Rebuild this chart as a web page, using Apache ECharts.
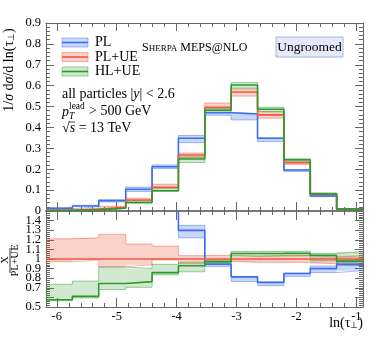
<!DOCTYPE html>
<html><head><meta charset="utf-8">
<script src="https://cdn.jsdelivr.net/npm/echarts@6/dist/echarts.min.js"></script>
<style>html,body{margin:0;padding:0;background:#fff}#c{width:374px;height:337px}</style>
</head><body><div id="c"></div>
<script>
// ---- data ----
const binEdges = [-6.18, -5.74, -5.30, -4.85, -4.41, -3.97, -3.53, -3.09, -2.65, -2.21, -1.77, -1.33, -0.89];
const pl   = [0.013, 0.024, 0.049, 0.104, 0.212, 0.348, 0.470, 0.464, 0.348, 0.196, 0.072, 0.0085];
const plue = [0.004, 0.009, 0.018, 0.053, 0.113, 0.268, 0.497, 0.570, 0.460, 0.231, 0.080, 0.009];
const hlue = [0.0023, 0.0055, 0.0134, 0.0405, 0.097, 0.249, 0.482, 0.603, 0.487, 0.245, 0.083, 0.0088];
// relative uncertainty bands (fraction of own central value)
const plUp   = [0.15, 0.15, 0.12, 0.10, 0.04, 0.04, 0.005, 0.005, 0.005, 0.005, 0.03, 0.035];
const plDn   = [0.15, 0.15, 0.12, 0.10, 0.04, 0.06, 0.025, 0.06, 0.045, 0.035, 0.045, 0.07];
const plueUp = [0.21, 0.22, 0.257, 0.156, 0.135, 0.035, 0.04, 0.025, 0.035, 0.035, 0.02, 0.035];
const plueDn = [0.03, 0.01, 0.08, 0.06, 0.01, 0.05, 0.02, 0.035, 0.035, 0.035, 0.05, 0.07];
const hlueUp = [0.28, 0.26, 0.23, 0.18, 0.10, 0.04, 0.02, 0.02, 0.02, 0.02, 0.02, 0.10];
const hlueDn = [0.017, 0.028, 0.084, 0.077, 0.028, 0.067, 0.02, 0.025, 0.025, 0.025, 0.055, 0.04];
const seriesNames = ['PL', 'PL+UE', 'HL+UE'];
const xTickValues = [-6, -5, -4, -3, -2, -1];
const xMinorTickValues = [-6.0,-5.8,-5.6,-5.4,-5.2,-5.0,-4.8,-4.6,-4.4,-4.2,-4.0,-3.8,-3.6,-3.4,-3.2,-3.0,-2.8,-2.6,-2.4,-2.2,-2.0,-1.8,-1.6,-1.4,-1.2,-1.0];
const X_MIN = -6.18, X_MAX = -0.89;

// ---- styling ----
const FONT = 'Liberation Serif';
const FS = 14;
const COL = ['#3c6ef2', '#ee5a3e', '#2c9a2c'];
const BAND_A = [0.28, 0.27, 0.22];
const AX = '#666';
function rgba(hex, a){const n=parseInt(hex.slice(1),16);return `rgba(${n>>16},${(n>>8)&255},${n&255},${a})`;}

const chart = echarts.init(document.getElementById('c'), null, {renderer:'canvas'});

function xAx(grid, pos, values, len, labels, lineOpt){
  return {type:'value', gridIndex:grid, position:pos, min:X_MIN, max:X_MAX,
    axisLine: lineOpt ? Object.assign({show:true, onZero:false}, lineOpt) : {show:false, onZero:false},
    splitLine:{show:false},
    axisTick:{show:true, inside:true, length:len, customValues:values, lineStyle:{color:AX, width:1}},
    axisLabel: labels ? {show:true, customValues:xTickValues, margin:3, color:'#000', fontFamily:FONT, fontSize:12.5, formatter:v=>String(v)} : {show:false}
  };
}
function yAx(grid, pos, min, max, labels, showMax){
  return {type:'value', gridIndex:grid, position:pos, min, max, interval:0.1,
    axisLine:{show:true, onZero:false, lineStyle:{color:AX, width:1}},
    splitLine:{show:false},
    axisTick:{show:true, inside:true, length:8, lineStyle:{color:AX, width:1}},
    minorTick:{show:true, splitNumber:5, length:4, lineStyle:{color:AX, width:1}},
    axisLabel: labels ? {show:true, margin:5, color:'#000', fontFamily:FONT, fontSize:12.5, showMaxLabel:showMax, showMinLabel:true} : {show:false}
  };
}

function bandSeries(lo, hi, color, alpha, xi, yi){
  return {type:'custom', xAxisIndex:xi, yAxisIndex:yi, clip:true, silent:true, z:2,
    data: lo.map((l,i)=>[binEdges[i], binEdges[i+1], l, hi[i]]),
    encode:{x:[0,1], y:[2,3]},
    renderItem:(p, api)=>{
      const a = api.coord([api.value(0), api.value(3)]);
      const b = api.coord([api.value(1), api.value(2)]);
      return {type:'rect', shape:{x:a[0], y:a[1], width:b[0]-a[0], height:b[1]-a[1]}, style:{fill:rgba(color, alpha)}};
    }};
}
function stepSeries(vals, color, width, opacity, xi, yi, z){
  return {type:'line', step:'end', xAxisIndex:xi, yAxisIndex:yi, symbol:'none', showSymbol:false, silent:true, clip:true, z:z,
    data: binEdges.map((e,i)=>[e, vals[Math.min(i, vals.length-1)]]),
    lineStyle:{color, width, opacity}};
}

const centrals = [pl, plue, hlue];
const ups = [plUp, plueUp, hlueUp];
const dns = [plDn, plueDn, hlueDn];
const series = [];
// main panel
centrals.forEach((v,k)=>{
  const lo = v.map((x,i)=>x*(1-dns[k][i])), hi = v.map((x,i)=>x*(1+ups[k][i]));
  series.push(bandSeries(lo, hi, COL[k], BAND_A[k], 0, 0));
  series.push(stepSeries(lo, COL[k], 1, 0.45, 0, 0, 3));
  series.push(stepSeries(hi, COL[k], 1, 0.45, 0, 0, 3));
});
centrals.forEach((v,k)=> series.push(stepSeries(v, COL[k], 1.6, 1, 0, 0, 4)));
// ratio panel
centrals.forEach((v,k)=>{
  const lo = v.map((x,i)=>x*(1-dns[k][i])/plue[i]), hi = v.map((x,i)=>x*(1+ups[k][i])/plue[i]);
  series.push(bandSeries(lo, hi, COL[k], BAND_A[k], 4, 2));
  series.push(stepSeries(lo, COL[k], 1, 0.45, 4, 2, 3));
  series.push(stepSeries(hi, COL[k], 1, 0.45, 4, 2, 3));
});
centrals.forEach((v,k)=> series.push(stepSeries(v.map((x,i)=>x/plue[i]), COL[k], 1.6, 1, 4, 2, 4)));

const graphic = [
  // main y title
  {type:'text', x:9, y:70, rotation:Math.PI/2, style:{text:'1/{i|σ} d{i|σ}/d ln(τ{s|⊥})', fontFamily:FONT, fontSize:FS, fill:'#000', align:'center', verticalAlign:'middle',
    rich:{i:{fontFamily:FONT, fontSize:FS, fontStyle:'italic'}, s:{fontFamily:FONT, fontSize:9, verticalAlign:'bottom'}}}},
  // ratio y title (fraction)
  {type:'text', x:5, y:260, rotation:Math.PI/2, style:{text:'X', fontFamily:FONT, fontSize:10.5, fill:'#000', align:'center', verticalAlign:'middle'}},
  {type:'line', shape:{x1:10, y1:248, x2:10, y2:273}, style:{stroke:'#000', lineWidth:0.8}},
  {type:'text', x:15.5, y:260.5, rotation:Math.PI/2, style:{text:'PL+UE', fontFamily:FONT, fontSize:10.5, fill:'#000', align:'center', verticalAlign:'middle'}},
  // x title
  {type:'text', x:363, y:323, style:{text:'ln(τ{s|⊥})', fontFamily:FONT, fontSize:FS, fill:'#000', align:'right', verticalAlign:'middle',
    rich:{s:{fontFamily:FONT, fontSize:9, verticalAlign:'bottom'}}}},
  // Sherpa label
  {type:'text', x:142, y:47.5, style:{text:'{b|S}{m|HERPA} MEPS@NLO', fontFamily:FONT, fontSize:12, fill:'#000', align:'left', verticalAlign:'middle',
    rich:{b:{fontFamily:FONT, fontSize:12}, m:{fontFamily:FONT, fontSize:9, verticalAlign:'bottom'}}}},
  // Ungroomed box
  {type:'rect', shape:{x:276, y:37, width:67, height:20}, style:{fill:'#e6e9f8', stroke:'#a3b3ea', lineWidth:1}},
  {type:'text', x:309.5, y:47, style:{text:'Ungroomed', fontFamily:FONT, fontSize:13.5, fill:'#000', align:'center', verticalAlign:'middle'}},
  // cuts
  {type:'text', x:62, y:94, style:{text:'all particles |{i|y}| < 2.6', fontFamily:FONT, fontSize:FS, fill:'#000', align:'left', verticalAlign:'middle',
    rich:{i:{fontFamily:FONT, fontSize:FS, fontStyle:'italic'}}}},
  {type:'text', x:62, y:112, style:{text:'p', fontFamily:FONT, fontSize:FS, fontStyle:'italic', fill:'#000', align:'left', verticalAlign:'middle'}},
  {type:'text', x:69, y:116, style:{text:'T', fontFamily:FONT, fontSize:9.5, fontStyle:'italic', fill:'#000', align:'left', verticalAlign:'middle'}},
  {type:'text', x:69, y:106, style:{text:'lead', fontFamily:FONT, fontSize:9.5, fill:'#000', align:'left', verticalAlign:'middle'}},
  {type:'text', x:89, y:111.5, style:{text:'> 500 GeV', fontFamily:FONT, fontSize:FS, fill:'#000', align:'left', verticalAlign:'middle'}},
  {type:'text', x:62, y:128.5, style:{text:'√{i|s} = 13 TeV', fontFamily:FONT, fontSize:FS, fill:'#000', align:'left', verticalAlign:'middle',
    rich:{i:{fontFamily:FONT, fontSize:FS, fontStyle:'italic'}}}},
  {type:'line', shape:{x1:68.5, y1:122, x2:75, y2:122}, style:{stroke:'#000', lineWidth:0.7}}
];
// legend
const legY = [42.5, 57, 71.5];
seriesNames.forEach((nm,k)=>{
  graphic.push({type:'rect', shape:{x:62, y:legY[k]-4.5, width:26, height:9}, style:{fill:rgba(COL[k], BAND_A[k]), stroke:rgba(COL[k],0.45), lineWidth:1}});
  graphic.push({type:'line', shape:{x1:62, y1:legY[k], x2:88, y2:legY[k]}, style:{stroke:COL[k], lineWidth:1.6}});
  graphic.push({type:'text', x:95, y:legY[k], style:{text:nm, fontFamily:FONT, fontSize:FS, fill:'#000', align:'left', verticalAlign:'middle'}});
});

chart.setOption({
  animation:false,
  backgroundColor:'#fff',
  grid:[{left:46, top:23, width:317, height:188}, {left:46, top:211, width:317, height:96}],
  xAxis:[
    xAx(0, 'bottom', xTickValues, 9, false, {lineStyle:{color:'#777', width:2}}),
    xAx(0, 'bottom', xMinorTickValues, 4, false, null),
    xAx(0, 'top', xTickValues, 8, false, {lineStyle:{color:AX, width:1}}),
    xAx(0, 'top', xMinorTickValues, 4, false, null),
    xAx(1, 'bottom', xTickValues, 9, true, {lineStyle:{color:AX, width:1}}),
    xAx(1, 'bottom', xMinorTickValues, 4, false, null),
    xAx(1, 'top', xTickValues, 9, false, null),
    xAx(1, 'top', xMinorTickValues, 4, false, null)
  ],
  yAxis:[
    yAx(0, 'left', 0, 0.9, true, true),
    yAx(0, 'right', 0, 0.9, false, true),
    yAx(1, 'left', 0.5, 1.5, true, false),
    yAx(1, 'right', 0.5, 1.5, false, false)
  ],
  series,
  graphic
});
</script></body></html>
